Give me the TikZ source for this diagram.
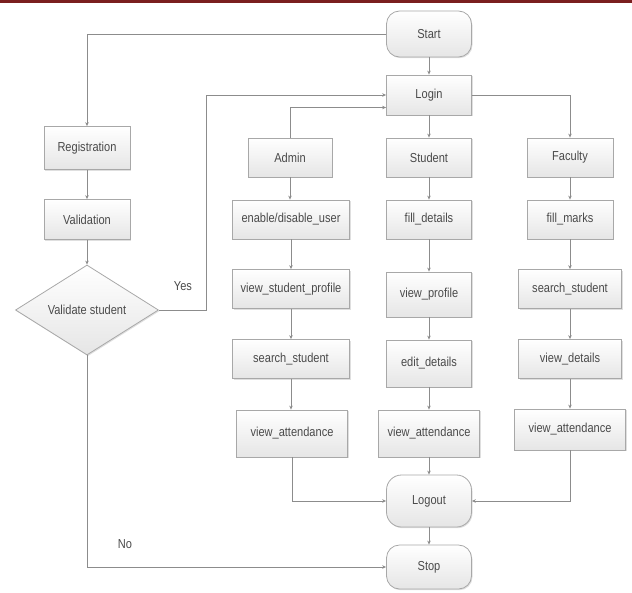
\documentclass[tikz,border=0pt]{standalone}
\usepackage{fontspec}
\setmainfont{Liberation Sans}[FakeStretch=0.85]
\usetikzlibrary{shapes.geometric,arrows.meta,shadows}
\definecolor{barred}{HTML}{7A1F1F}
\definecolor{txt}{HTML}{4A4A4A}
\definecolor{edge}{HTML}{A8A8A8}
\definecolor{linec}{HTML}{8C8C8C}
\tikzset{
  base/.style={draw=edge, line width=0.8pt, top color=white, bottom color=black!10,
     text=txt, font=\fontsize{13}{15}\selectfont, inner sep=1pt,
     drop shadow={opacity=0.25, shadow xshift=1pt, shadow yshift=-1.2pt}},
  proc/.style={base, rectangle},
  term/.style={base, rectangle, rounded corners=13pt},
  decis/.style={base, diamond, inner sep=0pt},
  arr/.style={draw=linec, line width=0.8pt, -{Stealth[length=4pt,width=3.5pt]}},
  lab/.style={text=txt, font=\fontsize{13}{15}\selectfont}
}
\begin{document}
\begin{tikzpicture}[x=1pt,y=-1pt]
\useasboundingbox (0,0) rectangle (632,592);
\fill[barred] (0,0) rectangle (632,3);

\node[term, minimum width=85pt, minimum height=46pt] (start) at (429,34) {Start};
\node[proc, minimum width=85pt, minimum height=40pt] (login) at (429,95) {Login};
\node[proc, minimum width=86pt, minimum height=43pt] (reg) at (87,148) {Registration};
\node[proc, minimum width=84pt, minimum height=39pt] (admin) at (290,157.5) {Admin};
\node[proc, minimum width=85pt, minimum height=39pt] (student) at (429,157.5) {Student};
\node[proc, minimum width=86pt, minimum height=39pt] (faculty) at (570,157.5) {Faculty};
\node[proc, minimum width=86pt, minimum height=40pt] (valid) at (87,219.5) {Validation};
\node[proc, minimum width=117pt, minimum height=39pt] (enable) at (291,219.5) {enable/disable\_user};
\node[proc, minimum width=85pt, minimum height=39pt] (filld) at (429,219.5) {fill\_details};
\node[proc, minimum width=86pt, minimum height=39pt] (fillm) at (570,219.5) {fill\_marks};
\node[decis, minimum width=143pt, minimum height=90pt] (dia) at (87,310) {Validate student};
\node[proc, minimum width=117pt, minimum height=39pt] (vsp) at (291,289) {view\_student\_profile};
\node[proc, minimum width=85pt, minimum height=45pt] (vprof) at (429,294.5) {view\_profile};
\node[proc, minimum width=103pt, minimum height=39pt] (ssf) at (570,289) {search\_student};
\node[proc, minimum width=117pt, minimum height=39pt] (ssa) at (291,359) {search\_student};
\node[proc, minimum width=85pt, minimum height=47pt] (edit) at (429,363.5) {edit\_details};
\node[proc, minimum width=103pt, minimum height=39pt] (vdet) at (570,359) {view\_details};
\node[proc, minimum width=111pt, minimum height=47pt] (vaa) at (292,433.5) {view\_attendance};
\node[proc, minimum width=101pt, minimum height=47pt] (vas) at (429,433.5) {view\_attendance};
\node[proc, minimum width=111pt, minimum height=41pt] (vaf) at (570,429.5) {view\_attendance};
\node[term, minimum width=85pt, minimum height=52pt, rounded corners=15pt] (logout) at (429,501) {Logout};
\node[term, minimum width=85pt, minimum height=44pt] (stop) at (429,567) {Stop};

\node[lab] (yes) at (183,286) {Yes};
\node[lab] (no) at (125,544) {No};

\coordinate (yesbend) at (206,310);

\draw[arr] (start.west) -| (reg.north);
\draw[arr] (start) -- (login);
\draw[arr] (login) -- (student);
\draw[arr] (login.east) -| (faculty.north);
\draw[arr] (admin.north) |- ([yshift=-12.5pt]login.west);
\draw[arr] (reg) -- (valid);
\draw[arr] (valid) -- (dia);
\draw[arr] (dia.east) -- (yesbend) |- (login.west);
\draw[arr] (dia.south) |- (stop.west);

\draw[arr] (admin.south) -- (admin.south |- enable.north);
\draw[arr] (enable) -- (vsp);
\draw[arr] (vsp) -- (ssa);
\draw[arr] (ssa.south) -- (ssa.south |- vaa.north);
\draw[arr] (vaa.south) |- (logout.west);

\draw[arr] (student) -- (filld);
\draw[arr] (filld) -- (vprof);
\draw[arr] (vprof) -- (edit);
\draw[arr] (edit) -- (vas);
\draw[arr] (vas) -- (logout);
\draw[arr] (logout) -- (stop);

\draw[arr] (faculty) -- (fillm);
\draw[arr] (fillm) -- (ssf);
\draw[arr] (ssf) -- (vdet);
\draw[arr] (vdet) -- (vaf);
\draw[arr] (vaf.south) |- (logout.east);
\end{tikzpicture}
\end{document}
